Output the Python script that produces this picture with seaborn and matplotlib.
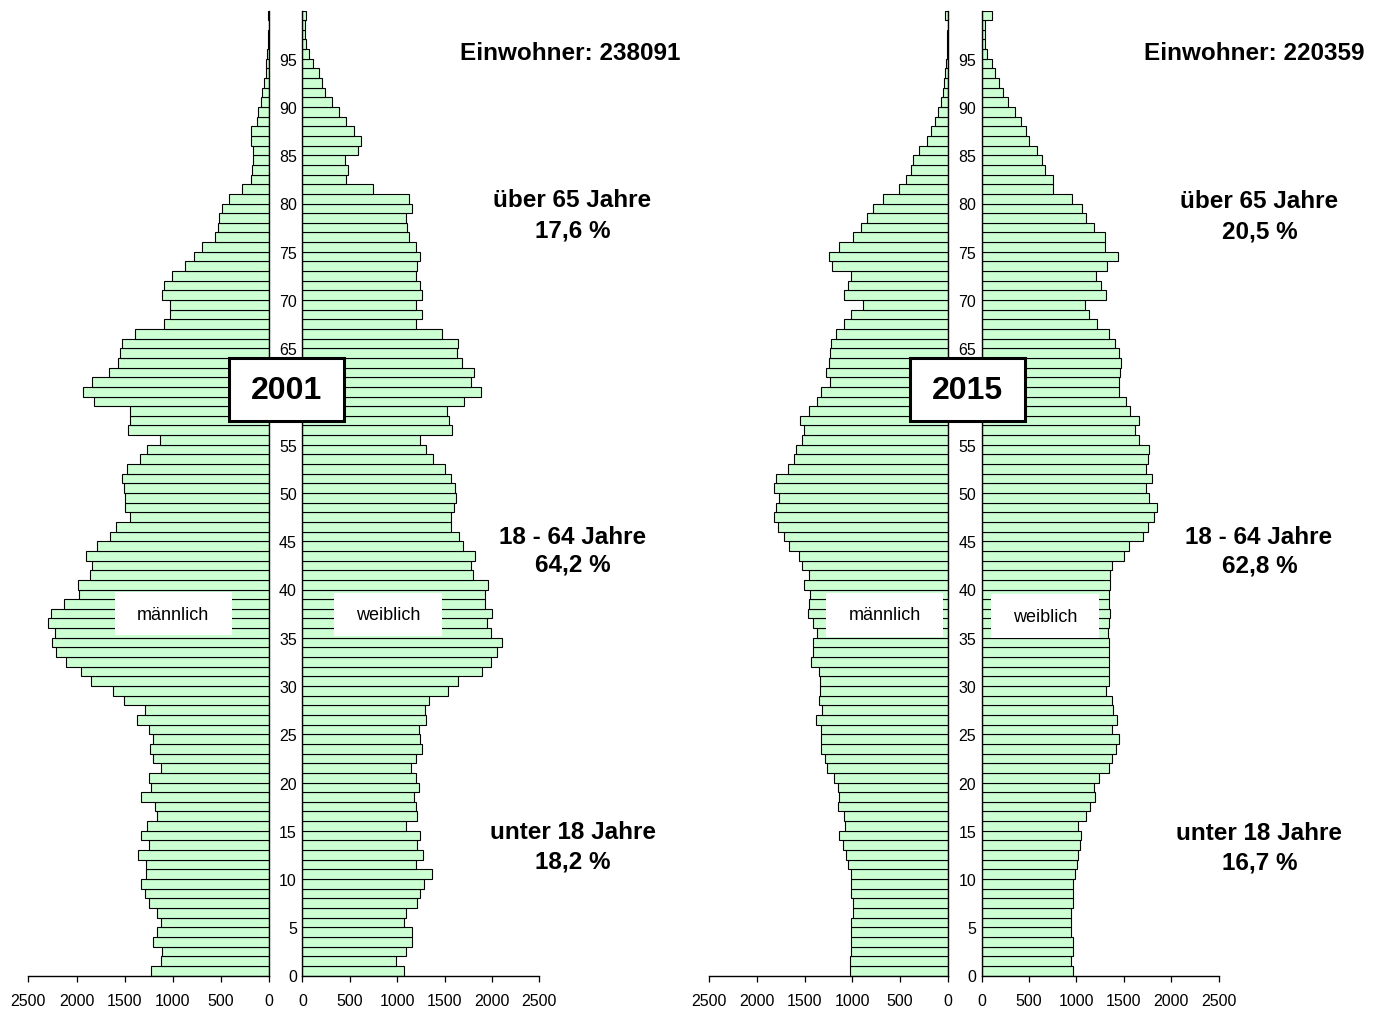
import numpy as np
import pandas as pd
import matplotlib
matplotlib.use("Agg")
import matplotlib.pyplot as plt
from matplotlib.patches import Rectangle
import seaborn as sns

# ---------------- data ----------------
ages = list(range(100))
age_ticks = list(range(0, 100, 5))
x_ticks = [0, 500, 1000, 1500, 2000, 2500]

male_2001 = [1225, 1121, 1111, 1207, 1168, 1128, 1168, 1253, 1286, 1336,
             1275, 1275, 1357, 1246, 1328, 1264, 1161, 1182, 1328, 1228,
             1243, 1128, 1207, 1239, 1207, 1243, 1368, 1289, 1507, 1618,
             1850, 1950, 2114, 2214, 2253, 2218, 2293, 2261, 2128, 1975,
             1989, 1857, 1836, 1903, 1786, 1650, 1586, 1446, 1500, 1500,
             1511, 1525, 1471, 1346, 1268, 1139, 1468, 1446, 1450, 1818,
             1928, 1843, 1668, 1571, 1553, 1525, 1389, 1093, 1028, 1025,
             1111, 1089, 1014, 871, 786, 696, 561, 532, 518, 489,
             418, 279, 189, 179, 164, 171, 193, 193, 125, 114,
             89, 71, 50, 39, 32, 25, 18, 11, 7, 18]

female_2001 = [1072, 988, 1097, 1156, 1156, 1076, 1097, 1214, 1236, 1279,
               1370, 1199, 1276, 1206, 1243, 1097, 1206, 1199, 1174, 1232,
               1199, 1141, 1199, 1265, 1236, 1232, 1305, 1297, 1341, 1541,
               1643, 1897, 1991, 2057, 2108, 1991, 1951, 2002, 1930, 1930,
               1962, 1799, 1781, 1824, 1693, 1650, 1570, 1570, 1603, 1621,
               1614, 1570, 1508, 1381, 1305, 1246, 1581, 1544, 1523, 1708,
               1890, 1784, 1813, 1679, 1628, 1639, 1475, 1199, 1265, 1199,
               1265, 1243, 1199, 1206, 1243, 1199, 1130, 1101, 1094, 1159,
               1130, 749, 458, 476, 454, 592, 618, 549, 462, 382,
               316, 243, 211, 171, 116, 69, 40, 29, 29, 36]

male_2015 = [1027, 1027, 1019, 1019, 1009, 1009, 998, 998, 1009, 1009,
             1019, 1045, 1063, 1095, 1142, 1073, 1084, 1153, 1142, 1153,
             1196, 1261, 1282, 1333, 1326, 1326, 1383, 1315, 1354, 1336,
             1336, 1354, 1430, 1408, 1416, 1372, 1416, 1466, 1455, 1444,
             1502, 1455, 1524, 1560, 1661, 1711, 1779, 1823, 1801, 1772,
             1815, 1794, 1671, 1614, 1592, 1524, 1506, 1545, 1455, 1372,
             1326, 1239, 1275, 1243, 1236, 1225, 1171, 1088, 1009, 893,
             1084, 1048, 1016, 1217, 1243, 1135, 998, 908, 843, 789,
             677, 508, 439, 389, 360, 299, 223, 173, 130, 101,
             72, 50, 43, 32, 25, 14, 11, 7, 0, 35]

female_2015 = [959, 945, 959, 959, 945, 945, 938, 959, 967, 967,
               988, 1003, 1014, 1039, 1050, 1014, 1097, 1145, 1199, 1188,
               1243, 1341, 1377, 1421, 1454, 1377, 1432, 1388, 1377, 1308,
               1341, 1348, 1348, 1348, 1348, 1337, 1345, 1352, 1345, 1341,
               1359, 1359, 1377, 1497, 1552, 1697, 1759, 1821, 1853, 1770,
               1733, 1792, 1737, 1759, 1770, 1664, 1621, 1664, 1566, 1526,
               1454, 1450, 1457, 1472, 1446, 1403, 1341, 1214, 1137, 1087,
               1308, 1254, 1210, 1326, 1435, 1305, 1305, 1181, 1105, 1061,
               948, 749, 749, 665, 636, 581, 501, 465, 418, 349,
               276, 225, 178, 145, 109, 55, 36, 33, 33, 109]

years = ["2001", "2015"]
einwohner = ["Einwohner: 238091", "Einwohner: 220359"]
group_labels = ["über 65 Jahre", "18 - 64 Jahre", "unter 18 Jahre"]
share_2001 = ["17,6 %", "64,2 %", "18,2 %"]
share_2015 = ["20,5 %", "62,8 %", "16,7 %"]

# ---------------- style ----------------
sns.set_theme(style="white")
plt.rcParams["font.family"] = ["Liberation Sans", "DejaVu Sans"]

W, H = 1383, 1012
fig = plt.figure(figsize=(W / 100, H / 100), dpi=100)
GREEN = "#ccffd2"

def add_ax(x0, x1, ytop, ybot):
    return fig.add_axes([x0 / W, 1 - ybot / H, (x1 - x0) / W, (ybot - ytop) / H])

def draw_side(ax, values, male):
    df = pd.DataFrame({"age": np.array(ages) + 0.5, "count": values})
    sns.barplot(data=df, x="count", y="age", orient="h", native_scale=True,
                width=1, color=GREEN, saturation=1, edgecolor="black",
                linewidth=0.8, errorbar=None, ax=ax)
    ax.set_ylim(0, 100)
    ax.set_xlabel("")
    ax.set_ylabel("")
    ax.set_xticks(x_ticks)
    ax.set_xticklabels([str(t) for t in x_ticks])
    ax.tick_params(axis="x", direction="out", length=4, width=0.9,
                   color="black", pad=8.5, labelsize=11.5, labelcolor="black",
                   bottom=True)
    for s in ax.spines.values():
        s.set_visible(False)
    ax.spines["bottom"].set_visible(True)
    ax.spines["bottom"].set_color("black")
    ax.spines["bottom"].set_linewidth(1.0)
    if male:
        ax.set_xlim(2500, 0)
        ax.spines["right"].set_visible(True)
        ax.spines["right"].set_color("black")
        ax.spines["right"].set_linewidth(1.0)
        ax.set_yticks([])
    else:
        ax.set_xlim(0, 2500)
        ax.spines["left"].set_visible(True)
        ax.spines["left"].set_color("black")
        ax.spines["left"].set_linewidth(1.0)
        ax.set_yticks(age_ticks)
        # the "60" label sits under the year box, as in the original
        ax.set_yticklabels(["" if a == 60 else str(a) for a in age_ticks])
        ax.tick_params(axis="y", length=0, pad=4, labelsize=11.5,
                       labelcolor="black", left=True)
    ax.set_facecolor("none")
    ax.grid(False)

YT, YB = 11.5, 976.5
ax_m1 = add_ax(28.3, 269.3, YT, YB)
ax_f1 = add_ax(302.4, 539.3, YT, YB)
ax_m2 = add_ax(709, 947.9, YT, YB)
ax_f2 = add_ax(981.7, 1218.6, YT, YB)

draw_side(ax_m1, male_2001, True)
draw_side(ax_f1, female_2001, False)
draw_side(ax_m2, male_2015, True)
draw_side(ax_f2, female_2015, False)

def ftext(x, y, s, **kw):
    fig.text(x / W, 1 - y / H, s, ha="center", va="center", color="black", **kw)

def fbox(x0, x1, y0, y1, lw):
    r = Rectangle((x0 / W, 1 - y1 / H), (x1 - x0) / W, (y1 - y0) / H,
                  transform=fig.transFigure, facecolor="white",
                  edgecolor="black" if lw > 0 else "white", linewidth=lw, zorder=5)
    fig.patches.append(r)

# year boxes
fbox(229.3, 344, 359.3, 421.7, 2.2)
fbox(910, 1025, 359.3, 421.7, 2.2)
ftext(286.7, 391, years[0], fontsize=23, fontweight="bold", zorder=6)
ftext(967.5, 391, years[1], fontsize=23, fontweight="bold", zorder=6)

# männlich / weiblich boxes
fbox(115, 231.8, 593.3, 635.7, 0)
fbox(334, 441.8, 594, 637.3, 0)
fbox(826, 943, 594, 637.7, 0)
fbox(991, 1098.8, 595.3, 639, 0)
ftext(173.4, 615, "männlich", fontsize=13, zorder=6)
ftext(388, 616, "weiblich", fontsize=13, zorder=6)
ftext(884.5, 616, "männlich", fontsize=13, zorder=6)
ftext(1045, 617, "weiblich", fontsize=13, zorder=6)

# annotations
BF = 17.5
ftext(570, 53, einwohner[0], fontsize=BF, fontweight="bold")
ftext(1254.5, 53, einwohner[1], fontsize=BF, fontweight="bold")

ys_label = [201, 537, 833]
ys_share = [231, 565, 862]
for lab, s1, s2, yl, ys in zip(group_labels, share_2001, share_2015, ys_label, ys_share):
    ftext(572.5, yl, lab, fontsize=BF, fontweight="bold")
    ftext(573, ys, s1, fontsize=BF, fontweight="bold")
    ftext(1259, yl + 1, lab, fontsize=BF, fontweight="bold")
    ftext(1260, ys + 1, s2, fontsize=BF, fontweight="bold")

fig.savefig("out.png", dpi=100, facecolor="white")
